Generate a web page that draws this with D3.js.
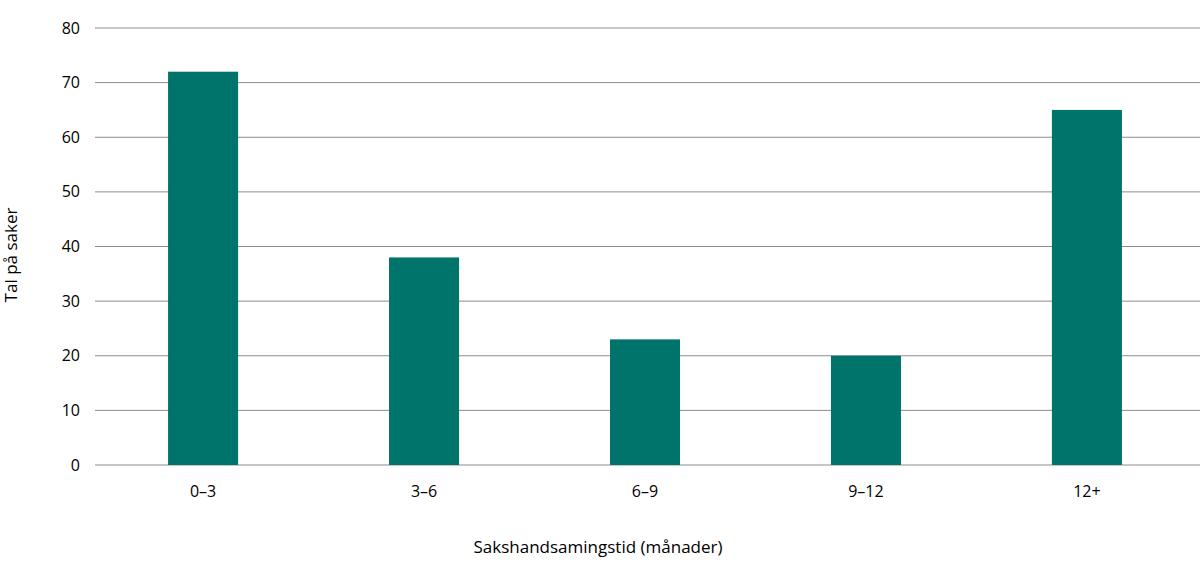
<!DOCTYPE html>
<html>
<head>
<meta charset="utf-8">
<script src="https://cdn.jsdelivr.net/npm/d3@7"></script>
<style>
  body { margin: 0; background: #fff; }
  text { font-family: "Open Sans", "Noto Sans", sans-serif; fill: #000; }
</style>
</head>
<body>
<svg width="1200" height="573"></svg>
<script>
const categories = ["0–3", "3–6", "6–9", "9–12", "12+"];
const values = [72, 38, 23, 20, 65];
const yTicks = [0, 10, 20, 30, 40, 50, 60, 70, 80];

const svg = d3.select("svg");

const x = d3.scaleBand().domain(categories).range([92.5, 1197.5]).paddingInner(0.683).paddingOuter(0.342);
const y = d3.scaleLinear().domain([0, 80]).range([465, 28]);

// grid
svg.append("g").selectAll("line").data(yTicks).join("line")
  .attr("x1", 95).attr("x2", 1200)
  .attr("y1", d => y(d)).attr("y2", d => y(d))
  .attr("stroke", "#8c8c8c").attr("stroke-width", 1);

svg.append("g").selectAll("text").data(yTicks).join("text")
  .attr("x", 80).attr("y", d => y(d)).attr("dy", "0.35em")
  .attr("text-anchor", "end").attr("font-size", 16)
  .text(d => d);

// bars
svg.append("g").selectAll("rect").data(values).join("rect")
  .attr("x", (d, i) => x(categories[i]))
  .attr("width", x.bandwidth())
  .attr("y", d => y(d))
  .attr("height", d => y(0) - y(d))
  .attr("fill", "#00746b");

svg.append("g").selectAll("text").data(categories).join("text")
  .attr("x", d => x(d) + x.bandwidth() / 2).attr("y", 497)
  .attr("text-anchor", "middle").attr("font-size", 16)
  .text(d => d);

svg.append("text").attr("x", 598).attr("y", 553)
  .attr("text-anchor", "middle").attr("font-size", 17)
  .text("Sakshandsamingstid (månader)");

svg.append("text").attr("transform", "translate(17,255) rotate(-90)")
  .attr("text-anchor", "middle").attr("font-size", 17)
  .text("Tal på saker");
</script>
</body>
</html>
